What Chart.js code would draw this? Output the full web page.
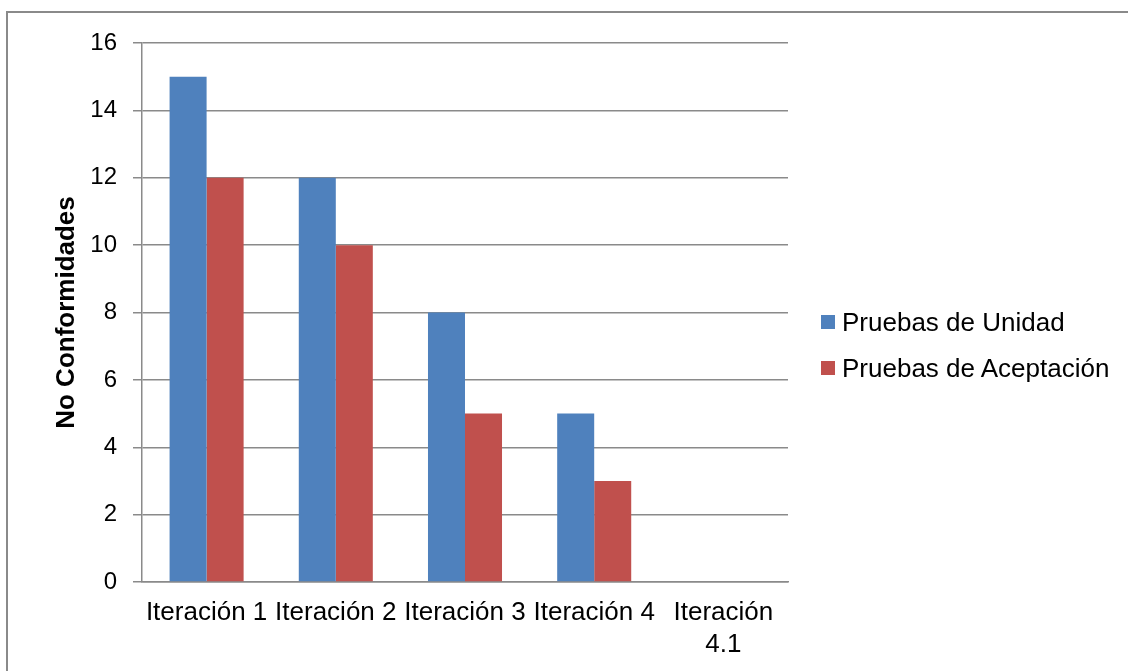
<!DOCTYPE html>
<html lang="es">
<head>
  <meta charset="UTF-8">
  <title>No Conformidades por iteración</title>
  <script src="https://cdn.jsdelivr.net/npm/chart.js"></script>
  <style>
    body { margin: 0; background: white; overflow: hidden; }
    #frame {
      position: absolute;
      left: 6px;
      top: 11px;
      width: 1200px;
      height: 700px;
      border-left: 2px solid #8a8a8a;
      border-top: 2px solid #8a8a8a;
    }
    #chart { position: absolute; left: 0; top: 0; }
    #legend {
      position: absolute;
      left: 821px;
      top: 299px;
      font-family: 'Liberation Sans', Arial, sans-serif;
      font-size: 26px;
      color: #000;
    }
    #legend .item { display: flex; align-items: center; height: 46px; white-space: nowrap; }
    #legend .swatch { width: 14px; height: 14px; margin-right: 7px; }
  </style>
</head>
<body>
<div id="frame"></div>
<canvas id="chart" width="1128" height="671"></canvas>
<div id="legend"></div>
<script>
// data
const categories = ['Iteración 1', 'Iteración 2', 'Iteración 3', 'Iteración 4', ['Iteración', '4.1']];
const pruebasUnidad = [15, 12, 8, 5, 0];
const pruebasAceptacion = [12, 10, 5, 3, 0];
const yMin = 0, yMax = 16, yStep = 2;

const gridGray = '#8a8a8a';
const font = 'Liberation Sans, Arial, sans-serif';

const chart = new Chart(document.getElementById('chart'), {
  type: 'bar',
  data: {
    labels: categories,
    datasets: [
      { label: 'Pruebas de Unidad', data: pruebasUnidad, backgroundColor: '#4F81BD' },
      { label: 'Pruebas de Aceptación', data: pruebasAceptacion, backgroundColor: '#C0504D' }
    ]
  },
  options: {
    responsive: false,
    animation: false,
    barPercentage: 1,
    categoryPercentage: 0.573,
    layout: { padding: { top: 43, bottom: 0, left: 0, right: 340 } },
    plugins: {
      tooltip: { enabled: false },
      legend: { display: false }
    },
    scales: {
      x: {
        grid: { display: false, drawTicks: false },
        border: { display: true, color: gridGray, width: 1.5 },
        ticks: {
          color: '#000',
          padding: 15,
          maxRotation: 0,
          autoSkip: false,
          font: { family: font, size: 26, lineHeight: '32px' }
        },
        afterFit: s => { s.height = 89; }
      },
      y: {
        min: yMin,
        max: yMax,
        grid: { color: gridGray, lineWidth: 1.5, tickLength: 9 },
        border: { display: true, color: gridGray, width: 1.5 },
        ticks: {
          stepSize: yStep,
          color: '#000',
          padding: 16,
          font: { family: font, size: 24 }
        },
        title: {
          display: true,
          text: 'No Conformidades',
          color: '#000',
          padding: { top: 51, bottom: 0 },
          font: { family: font, size: 26, weight: 'bold', lineHeight: 1.2 }
        },
        afterFit: s => { s.width = 142; }
      }
    }
  }
});

// legend built from the chart's own datasets (the canvas legend box is too narrow for it)
const legendEl = document.getElementById('legend');
chart.data.datasets.forEach(ds => {
  const item = document.createElement('div');
  item.className = 'item';
  const sw = document.createElement('span');
  sw.className = 'swatch';
  sw.style.background = ds.backgroundColor;
  const txt = document.createElement('span');
  txt.textContent = ds.label;
  item.appendChild(sw);
  item.appendChild(txt);
  legendEl.appendChild(item);
});
</script>
</body>
</html>
